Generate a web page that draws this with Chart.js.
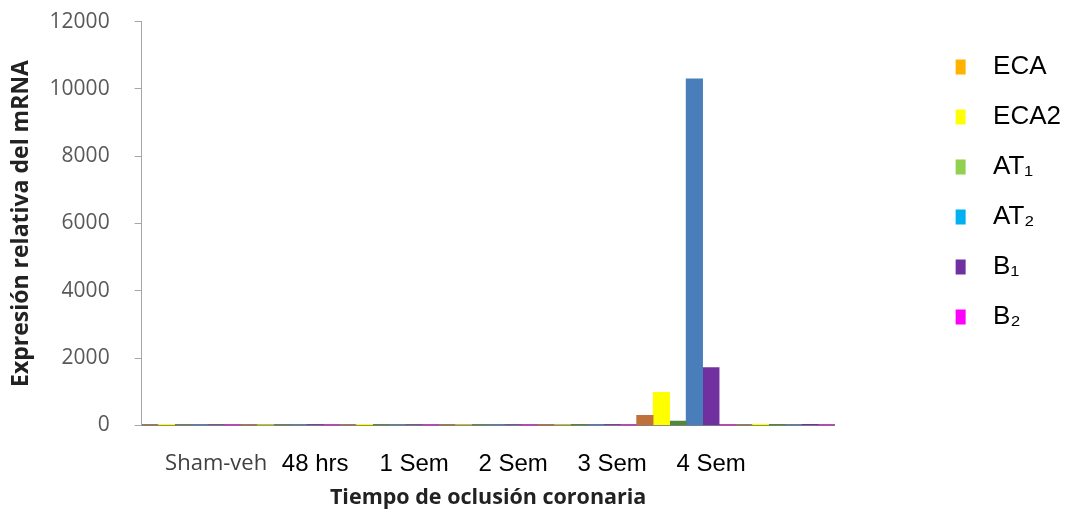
<!DOCTYPE html>
<html>
<head>
<meta charset="utf-8">
<script src="https://cdn.jsdelivr.net/npm/chart.js@4.4.1/dist/chart.umd.min.js"></script>
<style>
  html, body { margin: 0; background: #fff; }
  #wrap { width: 1078px; height: 515px; }
</style>
</head>
<body>
<div id="wrap"><canvas id="barChart"></canvas></div>
<script>
// categories (last slot is an unlabeled one, as in the original axis)
const categories = ["Sham-veh", "48 hrs", "1 Sem", "2 Sem", "3 Sem", "4 Sem", ""];
const seriesNames = ["ECA", "ECA2", "AT\u2081", "AT\u2082", "B\u2081", "B\u2082"];

// values (most are tiny, near the axis)
const ecaValues  = [15, 10, 12, 20, 25, 300, 20];
const eca2Values = [30, 10, 35, 15, 20, 980, 40];
const at1Values  = [20, 15, 25, 20, 30, 130, 35];
const at2Values  = [25, 20, 20, 25, 30, 10300, 25];
const b1Values   = [20, 25, 15, 20, 25, 1720, 30];
const b2Values   = [10, 10, 10, 10, 10, 5, 10];

const yMin = 0;
const yMax = 12000;
const yStep = 2000;

const barColors = ["#c0703a", "#ffff00", "#4e8a3a", "#4a7ebb", "#7030a0", "#ff00ff"];
const legendColors = ["#ffb300", "#ffff00", "#92d050", "#00b0f0", "#7030a0", "#ff00ff"];

const allValues = [ecaValues, eca2Values, at1Values, at2Values, b1Values, b2Values];

const datasets = allValues.map((vals, i) => ({
  label: seriesNames[i],
  data: vals,
  backgroundColor: barColors[i],
  borderWidth: 0,
  categoryPercentage: 1.0,
  barPercentage: 1.0,
}));

// move the legend away from the plot, the original has a wide gap there
const legendGap = 121;
const legendDrop = 23;
const legendShift = {
  id: "legendShift",
  afterLayout(chart) {
    const lg = chart.legend;
    const pad = lg.options.labels.padding;
    const dx = chart.chartArea.right + legendGap - (lg.left + pad);
    lg.left += dx;
    lg.right += dx;
    lg.top += legendDrop;
    lg.bottom += legendDrop;
  },
};

const ctx = document.getElementById("barChart").getContext("2d");
new Chart(ctx, {
  type: "bar",
  data: { labels: categories, datasets: datasets },
  options: {
    responsive: true,
    maintainAspectRatio: false,
    animation: false,
    layout: { padding: { top: 7, right: 104, bottom: 2, left: 3 } },
    plugins: {
      tooltip: { enabled: false },
      legend: {
        position: "right",
        align: "start",
        labels: {
          boxWidth: 10,
          boxHeight: 15,
          padding: 24,
          color: "#000",
          font: { family: "'Liberation Sans', Arial, sans-serif", size: 26 },
          generateLabels: (chart) =>
            seriesNames.map((name, i) => ({
              text: "  " + name,
              fillStyle: legendColors[i],
              strokeStyle: legendColors[i],
              lineWidth: 0,
              fontColor: "#000",
              datasetIndex: i,
            })),
        },
      },
    },
    scales: {
      x: {
        grid: { display: false, drawTicks: false },
        border: { color: "#7f7f7f", width: 2 },
        ticks: {
          padding: 25,
          labelOffset: 25,
          maxRotation: 0,
          autoSkip: false,
          color: (c) => (c.index === 0 ? "#404040" : "#000"),
          font: (c) =>
            c.index === 0
              ? { family: "'Open Sans', sans-serif", size: 22 }
              : { family: "'Liberation Sans', Arial, sans-serif", size: 24 },
        },
        title: {
          display: true,
          text: "Tiempo de oclusión coronaria",
          color: "#222",
          font: { family: "'Open Sans', sans-serif", size: 21.5, weight: "bold" },
          padding: { top: -19, bottom: 2 },
        },
      },
      y: {
        min: yMin,
        max: yMax,
        ticks: {
          stepSize: yStep,
          padding: 9,
          color: "#595959",
          font: { family: "'Open Sans', sans-serif", size: 21 },
          callback: (v) => String(v),
        },
        // long tick slot, but only the last 7px next to the axis is drawn
        grid: {
          drawOnChartArea: false,
          drawTicks: true,
          tickLength: 23,
          tickBorderDash: [0, 16, 7, 0],
          color: "#a6a6a6",
        },
        border: { color: "#a6a6a6", width: 1 },
        title: {
          display: true,
          text: "Expresión relativa del mRNA",
          color: "#222",
          font: { family: "'Open Sans', sans-serif", size: 23, weight: "bold" },
          padding: { top: 5, bottom: 5 },
        },
      },
    },
  },
  plugins: [legendShift],
});
</script>
</body>
</html>
